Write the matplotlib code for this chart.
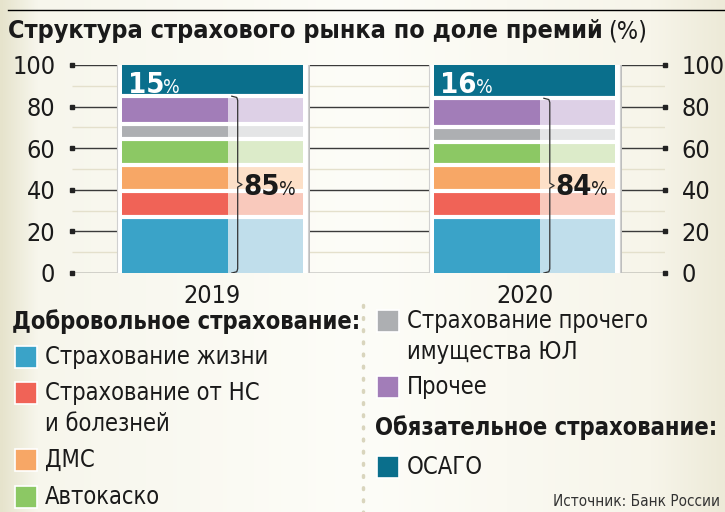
import matplotlib.pyplot as plt
import numpy as np
from matplotlib.patches import Rectangle
from matplotlib.colors import LinearSegmentedColormap

plt.rcParams['font.family'] = ['DejaVu Sans']
plt.rcParams['font.stretch'] = 'condensed'

# data
years = ['2019', '2020']
categories = ['Страхование жизни', 'Страхование от НС\nи болезней', 'ДМС', 'Автокаско',
              'Страхование прочего\nимущества ЮЛ', 'Прочее', 'ОСАГО']
shares_2019 = [27, 12.5, 12.5, 12.5, 7, 13.5, 15]
shares_2020 = [27, 12.5, 12.5, 11, 7, 14, 16]
voluntary_total = [85, 84]
osago_total = [15, 16]
yticks = [0, 20, 40, 60, 80, 100]

solid = ['#3aa3c8', '#f06357', '#f7a766', '#8cc864', '#adafb2', '#a27db8', '#0a6f8c']
light = ['#c0deeb', '#f9c9bc', '#fde0c8', '#dcebc9', '#e4e5e6', '#ddd0e6', '#0a6f8c']
ink = '#1a1a1a'

W, H = 725, 512
fig = plt.figure(figsize=(W / 100, H / 100), dpi=100)

def fx(px):
    return px / W

def fy(py):
    return 1 - py / H

# cream background
bg = fig.add_axes([0, 0, 1, 1], zorder=-10)
cmap = LinearSegmentedColormap.from_list('bg', [(0, '#e6e3cc'), (0.05, '#f7f6ec'), (0.5, '#fdfdf8'),
                                                (0.9, '#f7f5ea'), (1, '#edead8')])
bg.imshow(np.linspace(0, 1, 256)[None, :], cmap=cmap, aspect='auto', extent=[0, 1, 0, 1])
bg.axis('off')

# title
fig.add_artist(plt.Line2D([fx(8), 1], [fy(10), fy(10)], color='black', lw=1))
t = fig.text(fx(8), fy(31), 'Структура страхового рынка по доле премий', fontsize=18,
             fontweight='bold', va='center', ha='left', color=ink)
fig.canvas.draw()
r = fig.canvas.get_renderer()
bb = t.get_window_extent(r)
fig.text(bb.x1 / W + fx(5), fy(31), '(%)', fontsize=18, va='center', ha='left', color=ink)

ax = fig.add_axes([fx(72), fy(273), fx(665) - fx(72), fy(65) - fy(273)])
ax.set_facecolor('none')
ax.set_xlim(-0.45, 1.45)
ax.set_ylim(0, 100)
for s in ax.spines.values():
    s.set_visible(False)

# grid lines
ax.hlines(np.arange(10, 100, 20), -0.45, 1.45, color='#e4e0cc', lw=1, zorder=0)
ax.hlines(yticks, -0.45, 1.45, color='#3a3a3a', lw=1, zorder=0)
for y in yticks:
    ax.plot([-0.45, 1.45], [y, y], ls='none', marker='s', ms=3, color='#222222', clip_on=False, zorder=1)

ax.set_yticks(yticks)
ax.tick_params(axis='y', length=0, labelsize=18, pad=12, labelright=True, labelcolor=ink)
ax.set_xticks([0, 1], years)
ax.tick_params(axis='x', length=0, labelsize=18, pad=8, labelcolor=ink)

w = 0.58
split = 0.586
for i, vals in enumerate([shares_2019, shares_2020]):
    # white box
    ax.bar(i + 0.006, 103, bottom=-2.6, width=0.61, color='#bdbdbd', zorder=2, lw=0)
    ax.bar(i, 102.6, bottom=-1.8, width=0.61, color='white', edgecolor='#d0d0d0', lw=0.8, zorder=2)
    bottoms = np.concatenate([[0], np.cumsum(vals)[:-1]])
    left = i - w / 2
    ax.bar(left, vals[:-1], bottom=bottoms[:-1], width=w * split, align='edge',
           color=solid[:-1], zorder=3)
    ax.bar(left + w * split, vals[:-1], bottom=bottoms[:-1], width=w * (1 - split), align='edge',
           color=light[:-1], zorder=3)
    ax.bar(left, vals[-1], bottom=bottoms[-1], width=w, align='edge', color=solid[-1], zorder=3)

    # ОСАГО label
    tt = ax.text(left + 0.02, 86.6, str(osago_total[i]), fontsize=21, fontweight='bold',
                 color='white', va='baseline', ha='left', zorder=4)
    fig.canvas.draw()
    bb = tt.get_window_extent(r)
    x2 = ax.transData.inverted().transform((bb.x1, 0))[0]
    ax.text(x2 - 0.004, 86.6, '%', fontsize=14, color='white', va='baseline', ha='left', zorder=4)

    # separating gaps
    ax.hlines(np.cumsum(vals)[:-1], left, left + w, color='white', lw=3, zorder=5)

    # bracket
    xs = left + w * split
    top = voluntary_total[i]
    mid = top / 2
    bx = [xs + 0.012, xs + 0.028, xs + 0.031, xs + 0.031, xs + 0.045,
          xs + 0.031, xs + 0.031, xs + 0.028, xs + 0.012]
    by = [top, top - 0.6, top - 2, mid + 1.2, mid, mid - 1.2, 2, 0.6, 0]
    ax.plot(bx, by, color='#333333', lw=0.9, zorder=6)

    tv = ax.text(xs + 0.05, 37.5, str(top), fontsize=21, fontweight='bold',
                 color=ink, va='baseline', ha='left', zorder=6)
    fig.canvas.draw()
    bb = tv.get_window_extent(r)
    x2 = ax.transData.inverted().transform((bb.x1, 0))[0]
    ax.text(x2 - 0.004, 37.5, '%', fontsize=14, color=ink, va='baseline', ha='left', zorder=6)

# legend
def item(px, py, k):
    fig.add_artist(Rectangle((fx(px), fy(py + 11)), 22 / W, 22 / H, facecolor=solid[k],
                             edgecolor='white', lw=1.2, transform=fig.transFigure))
    for j, line in enumerate(categories[k].split('\n')):
        fig.text(fx(px + 30), fy(py + 31 * j), line, fontsize=17, va='center', ha='left', color=ink)

fig.text(fx(12), fy(322), 'Добровольное страхование:', fontsize=17, fontweight='bold',
         va='center', ha='left', color=ink)
for k, py in [(0, 357), (1, 393), (2, 460), (3, 497)]:
    item(15, py, k)
for k, py in [(4, 321), (5, 387), (6, 467)]:
    item(377, py, k)
fig.text(fx(375), fy(428), 'Обязательное страхование:', fontsize=17, fontweight='bold',
         va='center', ha='left', color=ink)
fig.text(fx(720), fy(502), 'Источник: Банк России', fontsize=11, va='center', ha='right',
         color='#333333')

# dotted separator
fig.add_artist(plt.Line2D([fx(363), fx(363)], [fy(305), 0], color='#d9d5bd', lw=2.5,
                          ls=(0, (0.5, 3)), dash_capstyle='round'))

fig.savefig('out.png', dpi=100)
